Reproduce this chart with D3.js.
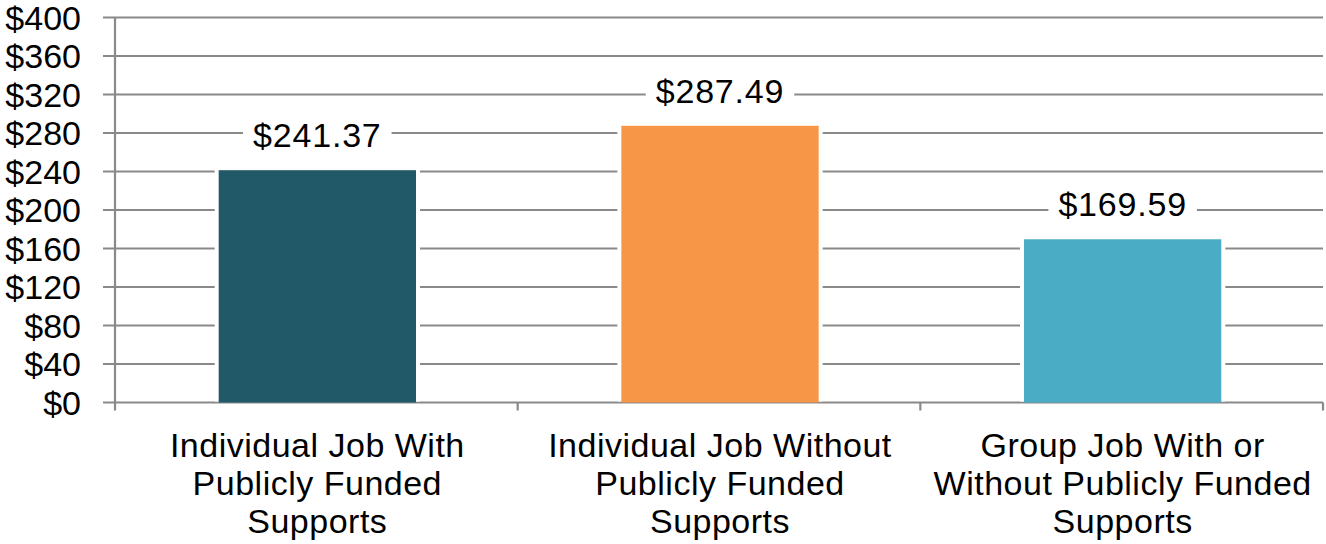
<!DOCTYPE html>
<html><head><meta charset="utf-8">
<script src="https://cdn.jsdelivr.net/npm/d3@7"></script>
<style>
body{margin:0;background:#fff;}
text{font-family:"Liberation Sans",Arial,sans-serif;fill:#000;}
</style></head>
<body><svg id="c" width="1326" height="544"></svg>
<script>
const categories = [
  ["Individual Job With","Publicly Funded","Supports"],
  ["Individual Job Without","Publicly Funded","Supports"],
  ["Group Job With or","Without Publicly Funded","Supports"]
];
const values = [241.37, 287.49, 169.59];
const valueLabels = ["$241.37", "$287.49", "$169.59"];
const colors = ["#215968", "#F79646", "#4BACC6"];
const yTicks = [0,40,80,120,160,200,240,280,320,360,400];

(function(){
const svg = d3.select("#c");
const pLeft = 115, pRight = 1323, pTop = 17.5, pBottom = 402.5;
const x = d3.scaleBand().domain(d3.range(values.length)).range([pLeft, pRight]).padding(0);
const y = d3.scaleLinear().domain([0,400]).range([pBottom, pTop]);
const gridColor = "#898989";

// gridlines
svg.append("g").selectAll("line").data(yTicks).join("line")
  .attr("x1", pLeft-12).attr("x2", pRight)
  .attr("y1", d=>y(d)).attr("y2", d=>y(d))
  .attr("stroke", gridColor).attr("stroke-width", 2.2);

// y tick labels
svg.append("g").selectAll("text").data(yTicks).join("text")
  .attr("x", 81).attr("y", d=>y(d)+12)
  .attr("text-anchor","end").attr("font-size",34)
  .text(d=>"$"+d);

// y axis line
svg.append("line").attr("x1",pLeft).attr("x2",pLeft).attr("y1",pTop).attr("y2",pBottom+8)
  .attr("stroke",gridColor).attr("stroke-width",2.2);
// x ticks
const xt = d3.range(values.length+1).map(i=> i<values.length ? x(i) : pRight);
svg.append("g").selectAll("line").data(xt.slice(1)).join("line")
  .attr("x1",d=>d).attr("x2",d=>d).attr("y1",pBottom).attr("y2",pBottom+8)
  .attr("stroke",gridColor).attr("stroke-width",2.2);

const bw = x.bandwidth()*0.49;
const bars = svg.append("g");
values.forEach((v,i)=>{
  const cx = x(i)+x.bandwidth()/2+1;
  bars.append("rect").attr("x",cx-bw/2-4).attr("width",bw+8)
    .attr("y",y(v)-4).attr("height",y(0)-y(v)+3).attr("fill","#fff");
  bars.append("rect").attr("x",cx-bw/2).attr("width",bw)
    .attr("y",y(v)).attr("height",y(0)-y(v)).attr("fill",colors[i]);
  // value label
  const g = svg.append("g");
  const t = g.append("text").attr("x",cx).attr("y",y(v)-23)
    .attr("text-anchor","middle").attr("font-size",34).attr("letter-spacing","0.8px")
    .text(valueLabels[i]);
  const bb = t.node().getBBox();
  g.insert("rect","text").attr("x",bb.x-10).attr("y",bb.y).attr("width",bb.width+20)
    .attr("height",bb.height).attr("fill","#fff");
  // category label
  const ct = svg.append("text").attr("text-anchor","middle").attr("font-size",34)
    .attr("letter-spacing","0.5px");
  categories[i].forEach((line,j)=>{
    ct.append("tspan").attr("x",cx).attr("y",457+j*38).text(line);
  });
});
})();
</script></body></html>
